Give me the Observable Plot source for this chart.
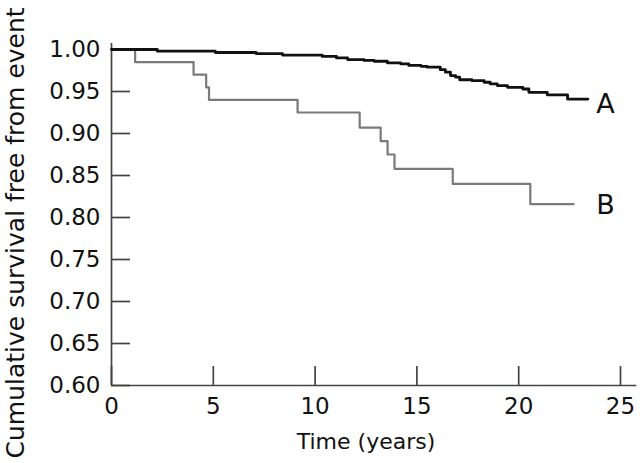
<!DOCTYPE html>
<html><head><meta charset="utf-8">
<script src="https://cdn.jsdelivr.net/npm/d3@7"></script>
<script src="https://cdn.jsdelivr.net/npm/@observablehq/plot@0.6"></script>
<style>body{margin:0;background:#fff;}</style>
</head><body><div id="chart"></div>
<script>
// Series A (black): time in years, cumulative survival
const timeA = [0, 2.25, 5.1, 7.1, 8.4, 10.35, 11.05, 11.6, 12.4, 12.9, 13.55, 14.2, 14.6, 15.2, 15.5, 16.15, 16.4, 16.65, 16.9, 17.1, 17.7, 18.3, 18.6, 18.95, 19.45, 20.2, 20.5, 21.4, 22.4, 23.4];
const survA = [1.000, 0.998, 0.9964, 0.9952, 0.9934, 0.9917, 0.990, 0.988, 0.987, 0.986, 0.984, 0.983, 0.981, 0.980, 0.979, 0.976, 0.973, 0.969, 0.967, 0.964, 0.963, 0.961, 0.959, 0.957, 0.955, 0.953, 0.949, 0.946, 0.941, 0.941];
// Series B (grey)
const timeB = [0, 1.16, 4.03, 4.65, 4.79, 9.14, 12.19, 13.22, 13.56, 13.9, 16.76, 20.57, 22.7];
const survB = [1.000, 0.985, 0.970, 0.955, 0.940, 0.925, 0.907, 0.891, 0.875, 0.858, 0.840, 0.816, 0.816];

const seriesNames = ["A", "B"];
const xTicks = [0, 5, 10, 15, 20, 25];
const yTicks = [0.60, 0.65, 0.70, 0.75, 0.80, 0.85, 0.90, 0.95, 1.00];
const xDomain = [0, 25];
const yDomain = [0.6, 1.0];
const xAxisExtent = [0, 25.8];
const yAxisExtent = [0.6, 1.007];
const xTitle = "Time (years)";
const yTitle = "Cumulative survival free from event";

const A = timeA.map((t, i) => ({t, s: survA[i], name: seriesNames[0]}));
const B = timeB.map((t, i) => ({t, s: survB[i], name: seriesNames[1]}));

const axisColor = "#444";

const chart = Plot.plot({
  width: 640,
  height: 463,
  marginLeft: 111,
  marginRight: 20,
  marginTop: 49,
  marginBottom: 78,
  x: {domain: xDomain},
  y: {domain: yDomain},
  style: {fontFamily: "DejaVu Sans", fontSize: "23px", color: "#111", background: "#fff"},
  marks: [
    Plot.axisX({ticks: xTicks, tickSize: 0, tickPadding: 12, label: null, tickFormat: d3.format("d")}),
    Plot.axisY({ticks: yTicks, tickSize: 0, tickPadding: 11, label: null, tickFormat: d3.format(".2f")}),
    Plot.ruleX(xTicks, {insetTop: 317, stroke: axisColor, strokeWidth: 1.7}),
    Plot.ruleY(yTicks, {insetRight: 490, stroke: axisColor, strokeWidth: 1.7}),
    Plot.ruleX([xAxisExtent[0]], {y1: yAxisExtent[0], y2: yAxisExtent[1], stroke: axisColor, strokeWidth: 1.7}),
    Plot.ruleY([yAxisExtent[0]], {x1: xAxisExtent[0], x2: xAxisExtent[1], stroke: axisColor, strokeWidth: 1.7}),
    Plot.line(B, {x: "t", y: "s", curve: "step-after", stroke: "#7a7a7a", strokeWidth: 2.2}),
    Plot.line(A, {x: "t", y: "s", curve: "step-after", stroke: "#111", strokeWidth: 2.8}),
    Plot.text([A[A.length - 1]], {y: "s", text: "name", frameAnchor: "right", dx: -15, dy: 5.4, fontSize: 27, textAnchor: "middle", fill: "#111"}),
    Plot.text([B[B.length - 1]], {y: "s", text: "name", frameAnchor: "right", dx: -15, dy: 1.7, fontSize: 27, textAnchor: "middle", fill: "#111"}),
    Plot.text([xTitle], {frameAnchor: "bottom", lineAnchor: "bottom", dy: 63, fontSize: 22, fill: "#111"}),
    Plot.text([yTitle], {frameAnchor: "bottom-left", rotate: -90, textAnchor: "start", lineAnchor: "bottom", dx: -88, dy: 73, fontSize: 25, fill: "#111"})
  ]
});
document.getElementById("chart").appendChild(chart);
</script>
</body></html>
